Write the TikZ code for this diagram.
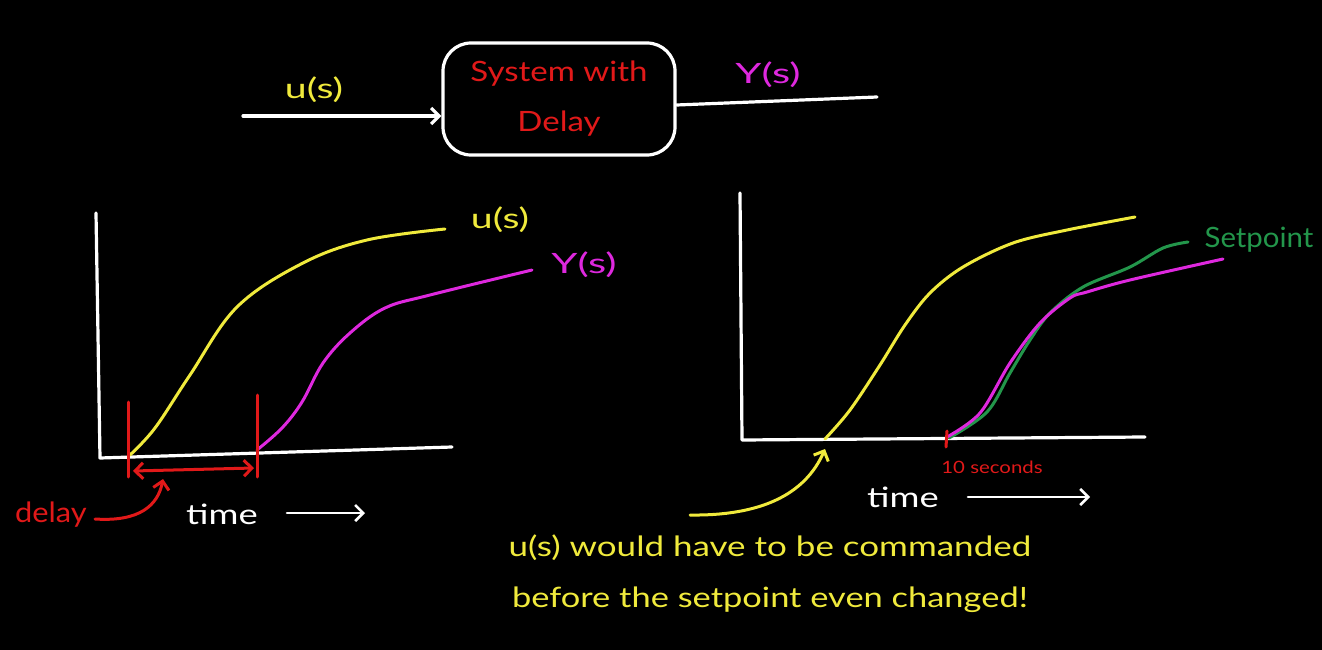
\documentclass[tikz,border=0pt]{standalone}
\usepackage{fontspec}
\setmainfont{Lato}
\usetikzlibrary{arrows.meta}
\definecolor{hyel}{RGB}{240,234,60}
\definecolor{hred}{RGB}{225,25,25}
\definecolor{hmag}{RGB}{222,40,222}
\definecolor{hgreen}{RGB}{35,150,75}
\newcommand\wide[2]{\scalebox{#1}[1]{#2}}
\begin{document}
\begin{tikzpicture}[x=1pt,y=-1pt,line cap=round,line join=round,
  wl/.style={draw=white,line width=3.2pt},
  yl/.style={draw=hyel,line width=3pt},
  rl/.style={draw=hred,line width=3pt},
  ml/.style={draw=hmag,line width=3pt},
  gl/.style={draw=hgreen,line width=3pt},
  barb/.style={-{Straight Barb[length=8pt,width=16pt]}},
  big/.style={font=\fontsize{28}{30}\selectfont,inner sep=0pt},
  small/.style={font=\fontsize{17}{18}\selectfont,inner sep=0pt}]
\fill[black] (0,0) rectangle (1322,650);
\useasboundingbox (0,0) rectangle (1322,650);
% top block
\node[wl,rounded corners=28pt,minimum width=232pt,minimum height=112pt,align=center,text=hred,
  font=\fontsize{28}{50}\selectfont] (sys) at (559,99) {\wide{1.18}{System with}\\\wide{1.18}{Delay}};
\coordinate (in) at (243,116);
\coordinate (out) at (877,97);
\draw[wl,barb] (in) -- (sys.west |- in);
\draw[wl] ([yshift=-6pt]sys.east) -- (out);
\node[big,text=hyel] (ulab) at (314,90) {\wide{1.4}{u(s)}};
\node[big,text=hmag] (ylab) at (768,75) {\wide{1.5}{Y(s)}};
% left graph
\coordinate (Ltop) at (96,213);
\coordinate (L0) at (100,458);
\coordinate (Lend) at (452,447);
\draw[wl] (Ltop) -- (L0) -- (Lend);
\draw[yl] plot[smooth,tension=0.6] coordinates {(130,455) (155,428) (190,375) (237,307) (303,263) (367,240) (445,229)};
\draw[ml] plot[smooth,tension=0.6] coordinates {(257,450) (282,428) (302,402) (323,363) (350,333) (385,308) (430,295) (532,270)};
\node[big,text=hyel] (ul2) at (500,220) {\wide{1.4}{u(s)}};
\node[big,text=hmag] (yl2) at (584,265) {\wide{1.5}{Y(s)}};
\coordinate (r1a) at (128,402); \coordinate (r1b) at (128,477);
\coordinate (r2a) at (257,395); \coordinate (r2b) at (257,477);
\draw[rl] (r1a) -- (r1b);
\draw[rl] (r2a) -- (r2b);
\coordinate (da) at (133,471); \coordinate (db) at (254,468);
\draw[rl,{Straight Barb[length=8pt,width=16pt]}-{Straight Barb[length=8pt,width=16pt]}] (da) -- (db);
\node[big,text=hred] (delay) at (51,515) {\wide{1.1}{delay}};
\coordinate (dtip) at (163,479);
\draw[rl,barb] ([xshift=8pt,yshift=-4pt]delay.east) .. controls (140,522) and (158,505) .. (dtip);
\node[big,text=white] (time1) at (222,514) {\wide{1.3}{time}};
\coordinate (t1a) at (287,513); \coordinate (t1b) at (365,513);
\draw[wl,line width=2.6pt,barb] (t1a) -- (t1b);
% right graph
\coordinate (Rtop) at (740,193);
\coordinate (R0) at (742,440);
\coordinate (Rend) at (1145,437);
\draw[wl] (Rtop) -- (R0) -- (Rend);
\draw[yl] plot[smooth,tension=0.55] coordinates {(825,439) (850,410) (880,365) (905,325) (930,293) (963,267) (1013,243) (1067,230) (1135,217)};
\draw[gl] plot[smooth,tension=0.55] coordinates {(949,438) (987,412) (1010,373) (1030,340) (1050,313) (1083,287) (1130,267) (1163,248) (1188,242)};
\draw[ml] plot[smooth,tension=0.55] coordinates {(947,437) (980,413) (1010,363) (1040,323) (1070,298) (1087,292) (1130,280) (1223,259)};
\node[big,text=hgreen] (sp) at (1259,240) {\wide{1.05}{Setpoint}};
\coordinate (tka) at (947,431); \coordinate (tkb) at (946,447);
\draw[rl] (tka) -- (tkb);
\node[small,text=hred] (ten) at (992,467) {\wide{1.2}{10 seconds}};
\node[big,text=white] (time2) at (903,497) {\wide{1.3}{time}};
\coordinate (t2a) at (968,497); \coordinate (t2b) at (1090,497);
\draw[wl,line width=2.6pt,barb] (t2a) -- (t2b);
\coordinate (ya) at (690,515); \coordinate (yb) at (825,449);
\draw[yl,barb] (ya) .. controls (760,516) and (805,495) .. (yb);
\node[big,text=hyel] (note1) at (770,548) {\wide{1.25}{u(s) would have to be commanded}};
\node[big,text=hyel] (note2) at (770,600) {\wide{1.23}{before the setpoint even changed!}};
\end{tikzpicture}
\end{document}
